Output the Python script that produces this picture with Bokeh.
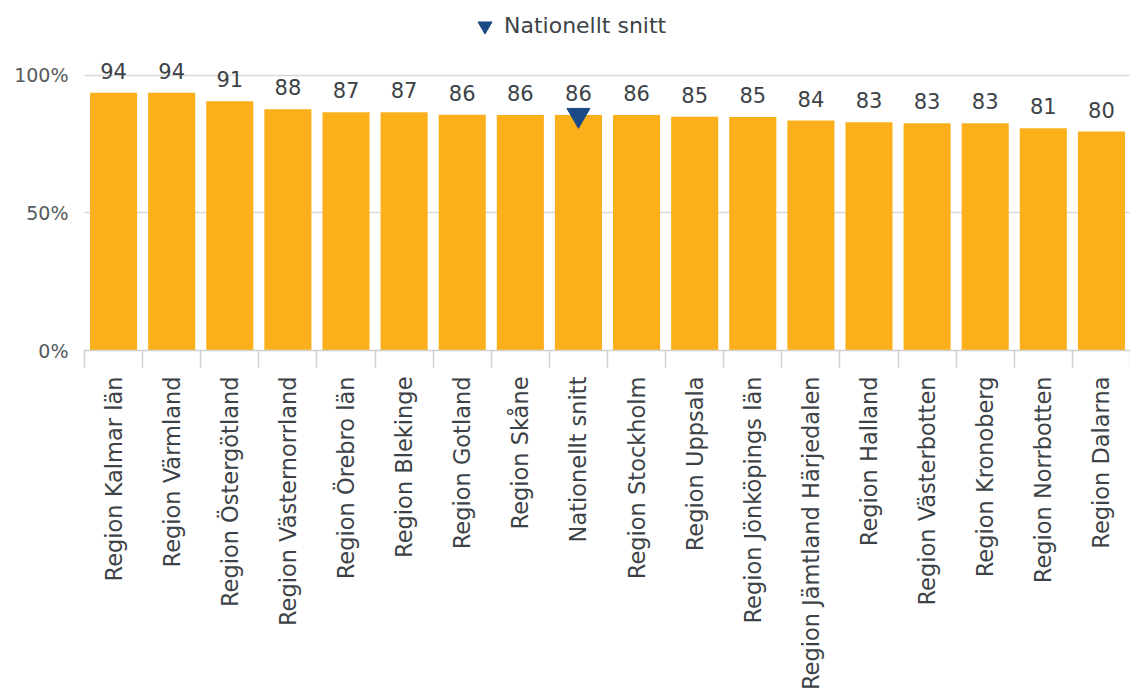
import math
from bokeh.plotting import figure
from bokeh.models import (Range1d, FixedTicker, PrintfTickFormatter, Legend, LegendItem,
                          ColumnDataSource)
from bokeh.core.properties import value
from bokeh.embed import file_html
from bokeh.resources import INLINE

regions = ["Region Kalmar län", "Region Värmland", "Region Östergötland", "Region Västernorrland",
           "Region Örebro län", "Region Blekinge", "Region Gotland", "Region Skåne",
           "Nationellt snitt", "Region Stockholm", "Region Uppsala", "Region Jönköpings län",
           "Region Jämtland Härjedalen", "Region Halland", "Region Västerbotten",
           "Region Kronoberg", "Region Norrbotten", "Region Dalarna"]
values = [93.6, 93.6, 90.5, 87.6, 86.5, 86.5, 85.6, 85.5, 85.5, 85.5, 84.9, 84.8,
          83.5, 82.9, 82.5, 82.5, 80.7, 79.5]
labels = ["94", "94", "91", "88", "87", "87", "86", "86", "86", "86", "85", "85",
          "84", "83", "83", "83", "81", "80"]
y_ticks = [0, 50, 100]
national_name = "Nationellt snitt"

FONT = "DejaVu Sans"
TXT = "#3c4246"
BAR = "#fbb01b"
BLUE = "#1c4a86"

n = len(regions)
centers = [i + 0.5 for i in range(n)]
bounds = [float(i) for i in range(n + 1)]

src = ColumnDataSource(dict(x=centers, top=values, label=labels, name=regions))

p = figure(width=1130, height=696, output_backend="svg", toolbar_location=None,
           x_range=Range1d(0, n), y_range=Range1d(0, 127.1),
           min_border_left=84, min_border_right=0, min_border_top=0, min_border_bottom=346)
p.outline_line_color = None
p.background_fill_color = "white"

p.vbar(x="x", top="top", width=0.81, source=src, fill_color=BAR, line_color=None)
p.text(x="x", y="top", text="label", source=src, text_align="center",
       text_baseline="alphabetic", y_offset=-22, text_font=value(FONT),
       text_font_size="21px", text_color=TXT)

idx = regions.index(national_name)
mk = p.scatter(x=[centers[idx]], y=[values[idx]], marker="inverted_triangle", size=23,
               fill_color=BLUE, line_color=BLUE)

# grid
p.xgrid.visible = False
p.ygrid.ticker = FixedTicker(ticks=y_ticks)
p.ygrid.grid_line_color = "#d9d9d9"
p.ygrid.grid_line_width = 1.5

# y axis
ya = p.yaxis[0]
ya.ticker = FixedTicker(ticks=y_ticks)
ya.formatter = PrintfTickFormatter(format="%d%%")
ya.axis_line_color = None
ya.major_tick_line_color = None
ya.minor_tick_line_color = None
ya.major_tick_out = 0
ya.major_label_standoff = 16
ya.major_label_text_font = FONT
ya.major_label_text_font_size = "19px"
ya.major_label_text_color = "#555a5e"

# x axis
xa = p.xaxis[0]
xa.ticker = FixedTicker(ticks=centers, minor_ticks=bounds)
xa.major_label_overrides = {c: r for c, r in zip(centers, regions)}
xa.major_tick_line_color = None
xa.major_tick_out = 0
xa.major_tick_in = 0
xa.minor_tick_in = 0
xa.minor_tick_out = 17
xa.minor_tick_line_color = "#d0d0d0"
xa.minor_tick_line_width = 1.5
xa.axis_line_color = "#d0d0d0"
xa.axis_line_width = 1.5
xa.major_label_orientation = math.pi / 2
xa.major_label_standoff = 9
xa.major_label_text_font = FONT
xa.major_label_text_font_size = "22.5px"
xa.major_label_text_color = TXT

legend = Legend(items=[LegendItem(label=national_name, renderers=[mk])],
                orientation="horizontal", location=(383, 307),
                border_line_color=None, background_fill_alpha=0,
                padding=0, margin=0, spacing=0,
                glyph_width=35, glyph_height=35, label_standoff=2,
                label_text_font=FONT, label_text_font_size="22px",
                label_text_color=TXT)
p.add_layout(legend, "center")

open("out.html", "w").write(file_html(p, INLINE))
